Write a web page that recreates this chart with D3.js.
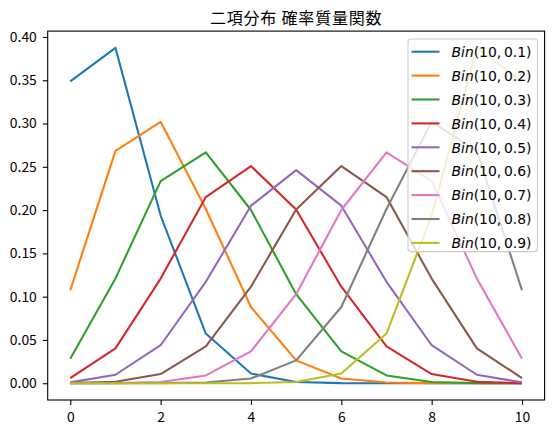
<!DOCTYPE html>
<html>
<head>
<meta charset="utf-8">
<script src="https://cdn.jsdelivr.net/npm/d3@7"></script>
<style>
  body { margin: 0; background: #fff; }
  svg { display: block; }
  .tick text { font-family: "Noto Sans CJK JP", sans-serif; font-size: 13.9px; fill: #000; }
  .tick line { stroke: #000; stroke-width: 1.1; }
</style>
</head>
<body>
<div id="chart"></div>
<script>
// values (probability mass at k = 0..10)
const ks = [0, 1, 2, 3, 4, 5, 6, 7, 8, 9, 10];
const probs = [0.1, 0.2, 0.3, 0.4, 0.5, 0.6, 0.7, 0.8, 0.9];
const pmf01 = [0.3487, 0.3874, 0.1937, 0.0574, 0.0112, 0.0015, 0.0001, 0.0000, 0.0000, 0.0000, 0.0000];
const pmf02 = [0.1074, 0.2684, 0.3020, 0.2013, 0.0881, 0.0264, 0.0055, 0.0008, 0.0001, 0.0000, 0.0000];
const pmf03 = [0.0282, 0.1211, 0.2335, 0.2668, 0.2001, 0.1029, 0.0368, 0.0090, 0.0014, 0.0001, 0.0000];
const pmf04 = [0.0060, 0.0403, 0.1209, 0.2150, 0.2508, 0.2007, 0.1115, 0.0425, 0.0106, 0.0016, 0.0001];
const pmf05 = [0.0010, 0.0098, 0.0439, 0.1172, 0.2051, 0.2461, 0.2051, 0.1172, 0.0439, 0.0098, 0.0010];
const pmf06 = [0.0001, 0.0016, 0.0106, 0.0425, 0.1115, 0.2007, 0.2508, 0.2150, 0.1209, 0.0403, 0.0060];
const pmf07 = [0.0000, 0.0001, 0.0014, 0.0090, 0.0368, 0.1029, 0.2001, 0.2668, 0.2335, 0.1211, 0.0282];
const pmf08 = [0.0000, 0.0000, 0.0001, 0.0008, 0.0055, 0.0264, 0.0881, 0.2013, 0.3020, 0.2684, 0.1074];
const pmf09 = [0.0000, 0.0000, 0.0000, 0.0000, 0.0001, 0.0015, 0.0112, 0.0574, 0.1937, 0.3874, 0.3487];
const xTicks = [0, 2, 4, 6, 8, 10];
const yTicks = [0, 0.05, 0.1, 0.15, 0.2, 0.25, 0.3, 0.35, 0.4];
const title = "二項分布 確率質量関数";

const allSeries = [pmf01, pmf02, pmf03, pmf04, pmf05, pmf06, pmf07, pmf08, pmf09];
const colors = ["#1f77b4", "#ff7f0e", "#2ca02c", "#d62728", "#9467bd",
                "#8c564b", "#e377c2", "#7f7f7f", "#bcbd22"];

const width = 553, height = 433;
const plotLeft = 47.7, plotRight = 544.6, plotTop = 31.1, plotBottom = 400;

const svg = d3.select("#chart").append("svg")
    .attr("width", width)
    .attr("height", height);

// matplotlib style 5% margins
const yMax = d3.max(allSeries, s => d3.max(s));
const yPad = yMax * 0.05;
const x = d3.scaleLinear().domain([-0.5, 10.5]).range([plotLeft, plotRight]);
const y = d3.scaleLinear().domain([-yPad, yMax + yPad]).range([plotBottom, plotTop]);

// lines
const line = d3.line()
    .x((d, i) => x(ks[i]))
    .y(d => y(d));

svg.append("g")
    .selectAll("path")
    .data(allSeries)
    .enter()
    .append("path")
    .attr("d", d => line(d))
    .attr("fill", "none")
    .attr("stroke", (d, i) => colors[i])
    .attr("stroke-width", 2.08)
    .attr("stroke-linejoin", "round");

// axes
const xAxis = svg.append("g")
    .attr("transform", `translate(0,${plotBottom})`)
    .call(d3.axisBottom(x).tickValues(xTicks).tickSize(4.9).tickPadding(4.5).tickFormat(d3.format("d")));
xAxis.select(".domain").remove();
xAxis.selectAll(".tick text").attr("dy", "0.9em");

const yAxis = svg.append("g")
    .attr("transform", `translate(${plotLeft},0)`)
    .call(d3.axisLeft(y).tickValues(yTicks).tickSize(4.9).tickPadding(6).tickFormat(d3.format(".2f")));
yAxis.select(".domain").remove();

// spines
svg.append("rect")
    .attr("x", plotLeft)
    .attr("y", plotTop)
    .attr("width", plotRight - plotLeft)
    .attr("height", plotBottom - plotTop)
    .attr("fill", "none")
    .attr("stroke", "#000")
    .attr("stroke-width", 1.1);

// title
svg.append("text")
    .attr("x", (plotLeft + plotRight) / 2)
    .attr("y", 23.5)
    .attr("text-anchor", "middle")
    .style("font-family", '"Noto Sans CJK JP", sans-serif')
    .style("font-size", "16px")
    .style("letter-spacing", "0.8px")
    .text(title);

// legend
const fs = 13.9;
const rowH = 23.9;
const legX = 408, legY = 39;
const legW = 129.5, legH = probs.length * rowH - 2.5;

const legend = svg.append("g");
legend.append("rect")
    .attr("x", legX)
    .attr("y", legY)
    .attr("width", legW)
    .attr("height", legH)
    .attr("rx", 3)
    .attr("fill", "#fff")
    .attr("fill-opacity", 0.8)
    .attr("stroke", "#cccccc")
    .attr("stroke-width", 1.1);

const rows = legend.selectAll("g.row")
    .data(probs)
    .enter()
    .append("g")
    .attr("class", "row")
    .attr("transform", (d, i) => `translate(0,${51.7 + i * rowH})`);

rows.append("line")
    .attr("x1", 411.5)
    .attr("x2", 439.5)
    .attr("stroke", (d, i) => colors[i])
    .attr("stroke-width", 2.08);

const labels = rows.append("text")
    .attr("x", 451.5)
    .attr("y", 5.2)
    .style("font-family", '"DejaVu Sans", sans-serif')
    .style("font-size", fs + "px");
labels.append("tspan")
    .style("font-style", "italic")
    .text("Bin");
labels.append("tspan")
    .text(d => `(10,\u2009${d.toFixed(1)})`);
</script>
</body>
</html>
